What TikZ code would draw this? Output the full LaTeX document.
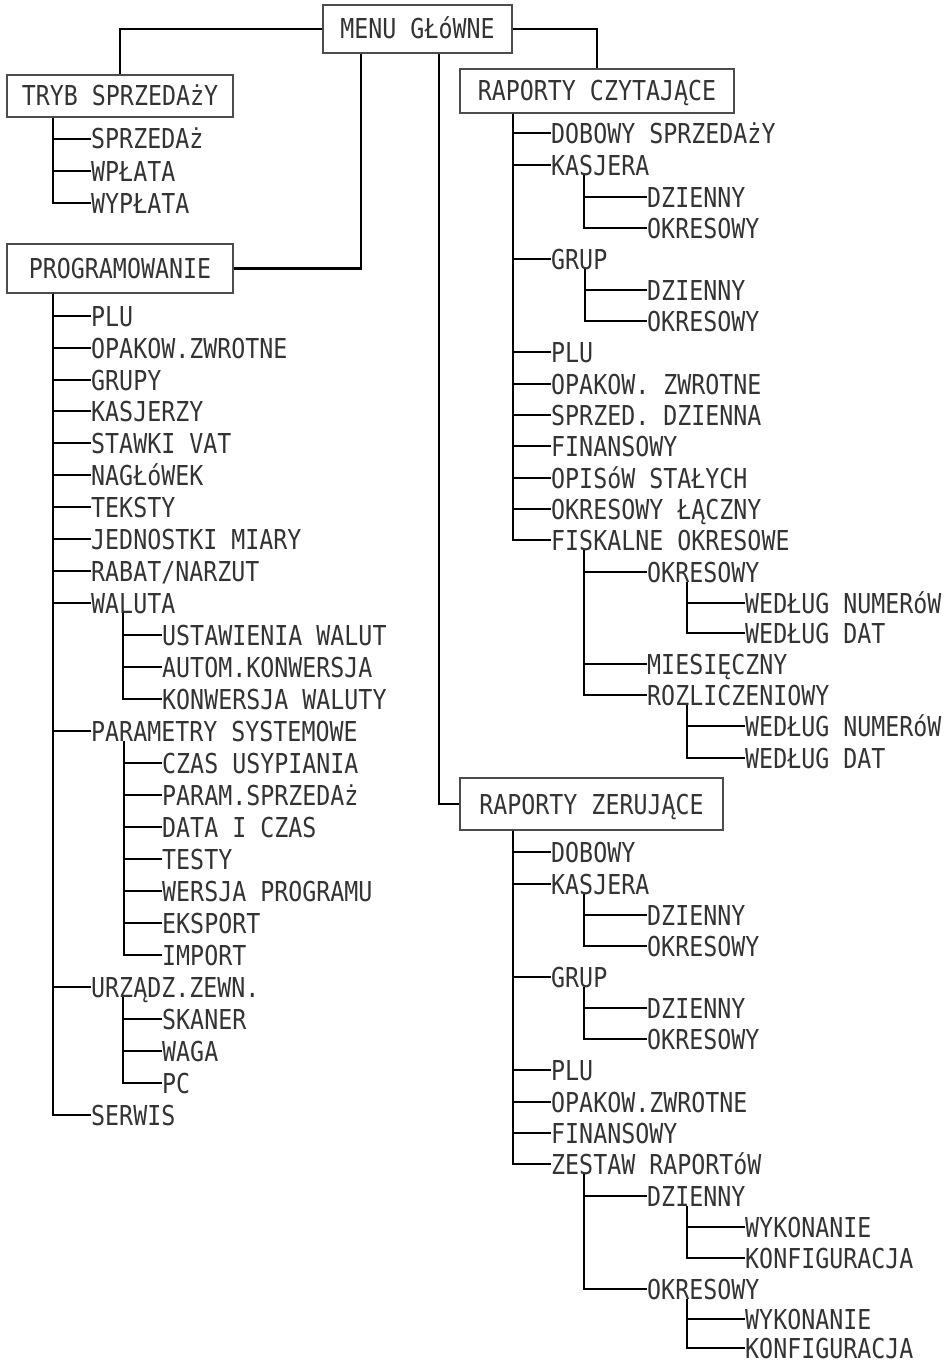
\documentclass[tikz,border=0pt]{standalone}
\usepackage{fontspec}
\usepackage{tikz}
\newfontfamily\lcd[FakeStretch=0.85]{DejaVu Sans Mono}
\def\lcdfont{\lcd\fontsize{27.4}{30}\selectfont}

\begin{document}
\begin{tikzpicture}[x=1pt,y=-1pt,
  lbl/.style={anchor=west,inner sep=0pt,text height=20pt,text depth=0pt,font=\lcdfont,text=black!80},
  menubox/.style={draw=black!70,line width=1.2pt,inner sep=0pt,text height=20pt,text depth=0pt,font=\lcdfont,text=black!80},
  conn/.style={line width=2.3pt}]
\useasboundingbox (0,0) rectangle (948,1362);

%boxes
\node[menubox,minimum width=189,minimum height=48] (menu) at (417.5,29) {MENU GŁóWNE};
\node[menubox,minimum width=226,minimum height=42] (tryb) at (120,96) {TRYB SPRZEDAżY};
\node[menubox,minimum width=226,minimum height=49] (prog) at (120,268.5) {PROGRAMOWANIE};
\node[menubox,minimum width=274,minimum height=44] (rc) at (597,91) {RAPORTY CZYTAJĄCE};
\node[menubox,minimum width=263,minimum height=52] (rz) at (591.5,804) {RAPORTY ZERUJĄCE};

\draw[conn] (menu.west) -| (tryb.north);
\draw[conn] (361,0 |- menu.south) |- (prog.east);
\draw[conn] (439,0 |- menu.south) |- (rz.west);
\draw[conn] (menu.east) -| (rc.north);

%tryb sprzedazy
\node[lbl] (sprz) at (91,139) {SPRZEDAż};
\node[lbl] (wpl) at (91,171) {WPŁATA};
\node[lbl] (wypl) at (91,203) {WYPŁATA};
\draw[conn] (53,0 |- tryb.south) |- (sprz.west);
\draw[conn] (53,0 |- tryb.south) |- (wpl.west);
\draw[conn] (53,0 |- tryb.south) |- (wypl.west);

%programowanie
\node[lbl] (plu) at (91,316) {PLU};
\node[lbl] (opak) at (91,348) {OPAKOW.ZWROTNE};
\node[lbl] (grupy) at (91,380) {GRUPY};
\node[lbl] (kasj) at (91,411) {KASJERZY};
\node[lbl] (vat) at (91,443) {STAWKI VAT};
\node[lbl] (nagl) at (91,475) {NAGŁóWEK};
\node[lbl] (tekst) at (91,507) {TEKSTY};
\node[lbl] (jedn) at (91,539) {JEDNOSTKI MIARY};
\node[lbl] (rabat) at (91,571) {RABAT/NARZUT};
\node[lbl] (waluta) at (91,603) {WALUTA};
\node[lbl] (param) at (91,731) {PARAMETRY SYSTEMOWE};
\node[lbl] (urz) at (91,987) {URZĄDZ.ZEWN.};
\node[lbl] (serwis) at (91,1115) {SERWIS};
\foreach \n in {plu,opak,grupy,kasj,vat,nagl,tekst,jedn,rabat,waluta,param,urz,serwis}
  \draw[conn] (53,0 |- prog.south) |- (\n.west);

%waluta
\node[lbl] (wal1) at (162,635) {USTAWIENIA WALUT};
\node[lbl] (wal2) at (162,667) {AUTOM.KONWERSJA};
\node[lbl] (wal3) at (162,699) {KONWERSJA WALUTY};
\foreach \n in {wal1,wal2,wal3}
  \draw[conn] (123,0 |- waluta.south) |- (\n.west);

%parametry
\node[lbl] (par1) at (162,763) {CZAS USYPIANIA};
\node[lbl] (par2) at (162,795) {PARAM.SPRZEDAż};
\node[lbl] (par3) at (162,827) {DATA I CZAS};
\node[lbl] (par4) at (162,859) {TESTY};
\node[lbl] (par5) at (162,891) {WERSJA PROGRAMU};
\node[lbl] (par6) at (162,923) {EKSPORT};
\node[lbl] (par7) at (162,955) {IMPORT};
\foreach \n in {par1,par2,par3,par4,par5,par6,par7}
  \draw[conn] (124,0 |- param.south) |- (\n.west);

%urzadzenia
\node[lbl] (urz1) at (162,1019) {SKANER};
\node[lbl] (urz2) at (162,1051) {WAGA};
\node[lbl] (urz3) at (162,1083) {PC};
\foreach \n in {urz1,urz2,urz3}
  \draw[conn] (123,0 |- urz.south) |- (\n.west);

%raporty czytajace
\node[lbl] (rcdob) at (551,133) {DOBOWY SPRZEDAżY};
\node[lbl] (rckas) at (551,165) {KASJERA};
\node[lbl] (rcgrup) at (551,259) {GRUP};
\node[lbl] (rcplu) at (551,352) {PLU};
\node[lbl] (rcopak) at (551,384) {OPAKOW. ZWROTNE};
\node[lbl] (rcsprz) at (551,415) {SPRZED. DZIENNA};
\node[lbl] (rcfin) at (551,446) {FINANSOWY};
\node[lbl] (rcopis) at (551,478) {OPISóW STAŁYCH};
\node[lbl] (rclacz) at (551,509) {OKRESOWY ŁĄCZNY};
\node[lbl] (rcfisk) at (551,540) {FISKALNE OKRESOWE};
\foreach \n in {rcdob,rckas,rcgrup,rcplu,rcopak,rcsprz,rcfin,rcopis,rclacz,rcfisk}
  \draw[conn] (513,0 |- rc.south) |- (\n.west);

\node[lbl] (rckas1) at (647,197) {DZIENNY};
\node[lbl] (rckas2) at (647,228) {OKRESOWY};
\draw[conn] (584,0 |- rckas.south) |- (rckas1.west);
\draw[conn] (584,0 |- rckas.south) |- (rckas2.west);

\node[lbl] (rcgrup1) at (647,290) {DZIENNY};
\node[lbl] (rcgrup2) at (647,321) {OKRESOWY};
\draw[conn] (585,0 |- rcgrup.south) |- (rcgrup1.west);
\draw[conn] (585,0 |- rcgrup.south) |- (rcgrup2.west);

\node[lbl] (rcfok) at (647,572) {OKRESOWY};
\node[lbl] (rcmies) at (647,664) {MIESIĘCZNY};
\node[lbl] (rcrozl) at (647,695) {ROZLICZENIOWY};
\foreach \n in {rcfok,rcmies,rcrozl}
  \draw[conn] (584,0 |- rcfisk.south) |- (\n.west);

\node[lbl] (rcfok1) at (745,603) {WEDŁUG NUMERóW};
\node[lbl] (rcfok2) at (745,633) {WEDŁUG DAT};
\draw[conn] (687,0 |- rcfok.south) |- (rcfok1.west);
\draw[conn] (687,0 |- rcfok.south) |- (rcfok2.west);

\node[lbl] (rcrozl1) at (745,726) {WEDŁUG NUMERóW};
\node[lbl] (rcrozl2) at (745,758) {WEDŁUG DAT};
\draw[conn] (687,0 |- rcrozl.south) |- (rcrozl1.west);
\draw[conn] (687,0 |- rcrozl.south) |- (rcrozl2.west);

%raporty zerujace
\node[lbl] (rzdob) at (551,852) {DOBOWY};
\node[lbl] (rzkas) at (551,884) {KASJERA};
\node[lbl] (rzgrup) at (551,977) {GRUP};
\node[lbl] (rzplu) at (551,1070) {PLU};
\node[lbl] (rzopak) at (551,1102) {OPAKOW.ZWROTNE};
\node[lbl] (rzfin) at (551,1133) {FINANSOWY};
\node[lbl] (rzzest) at (551,1164) {ZESTAW RAPORTóW};
\foreach \n in {rzdob,rzkas,rzgrup,rzplu,rzopak,rzfin,rzzest}
  \draw[conn] (513,0 |- rz.south) |- (\n.west);

\node[lbl] (rzkas1) at (647,915) {DZIENNY};
\node[lbl] (rzkas2) at (647,946) {OKRESOWY};
\draw[conn] (584,0 |- rzkas.south) |- (rzkas1.west);
\draw[conn] (584,0 |- rzkas.south) |- (rzkas2.west);

\node[lbl] (rzgrup1) at (647,1008) {DZIENNY};
\node[lbl] (rzgrup2) at (647,1039) {OKRESOWY};
\draw[conn] (584,0 |- rzgrup.south) |- (rzgrup1.west);
\draw[conn] (584,0 |- rzgrup.south) |- (rzgrup2.west);

\node[lbl] (rzdz) at (647,1196) {DZIENNY};
\node[lbl] (rzok) at (647,1289) {OKRESOWY};
\draw[conn] (584,0 |- rzzest.south) |- (rzdz.west);
\draw[conn] (584,0 |- rzzest.south) |- (rzok.west);

\node[lbl] (rzdz1) at (745,1227) {WYKONANIE};
\node[lbl] (rzdz2) at (745,1258) {KONFIGURACJA};
\draw[conn] (687,0 |- rzdz.south) |- (rzdz1.west);
\draw[conn] (687,0 |- rzdz.south) |- (rzdz2.west);

\node[lbl] (rzok1) at (745,1319) {WYKONANIE};
\node[lbl] (rzok2) at (745,1348) {KONFIGURACJA};
\draw[conn] (687,0 |- rzok.south) |- (rzok1.west);
\draw[conn] (687,0 |- rzok.south) |- (rzok2.west);

\end{tikzpicture}
\end{document}
